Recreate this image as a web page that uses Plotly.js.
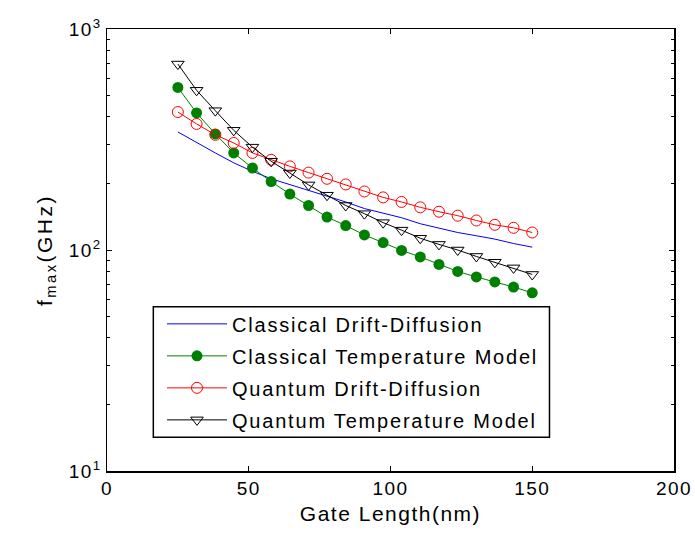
<!DOCTYPE html>
<html>
<head>
<meta charset="utf-8">
<script src="https://cdn.plot.ly/plotly-3.0.1.min.js"></script>
<style>
  html, body { margin: 0; padding: 0; background: #fff; }
  #chart { width: 695px; height: 534px; }
  .legendtext { letter-spacing: 1.8px; }
  .xtick text, .ytick text { letter-spacing: 1.5px; }
  .g-xtitle text { letter-spacing: 1.5px; }
  .g-ytitle text { letter-spacing: 2.5px; }
</style>
</head>
<body>
<div id="chart"></div>
<script>
// Gate length (nm)
const gateLength = [25, 31.6, 38.2, 44.7, 51.3, 57.9, 64.5, 71.1, 77.6, 84.2, 90.8, 97.4, 103.9, 110.5, 117.1, 123.7, 130.3, 136.8, 143.4, 150];
// f_max (GHz) per model
const classicalDriftDiffusion = [342, 306, 275, 248, 227, 210, 198, 186, 175, 165, 154, 147, 140, 131.5, 125.5, 120, 116, 112, 107, 103];
const classicalTemperature = [544, 417, 335, 275, 235, 204, 179, 159, 141, 129, 117, 108, 99.6, 93, 86, 80, 75.5, 71.7, 68, 64];
const quantumDriftDiffusion = [421, 372, 332, 305, 275, 256, 239, 224, 210, 198, 184, 173, 165, 156, 149, 143, 136, 130, 126, 120];
const quantumTemperature = [694, 528, 427, 348, 292, 252, 223, 197, 177, 159, 146, 133, 123, 113, 106, 100, 93.5, 88, 83, 77.5];

const seriesNames = ['Classical Drift-Diffusion', 'Classical Temperature Model', 'Quantum Drift-Diffusion', 'Quantum Temperature Model'];

const xTickVals = [0, 50, 100, 150, 200];
const yTickVals = [10, 100, 1000];
const yTickText = ['10<sup>1</sup>', '10<sup>2</sup>', '10<sup>3</sup>'];
const yMinorVals = [20, 30, 40, 50, 60, 70, 80, 90, 200, 300, 400, 500, 600, 700, 800, 900];

const FONT = '"Liberation Sans", Arial, Helvetica, sans-serif';

const traces = [
  { x: gateLength, y: classicalDriftDiffusion, name: seriesNames[0], legendgroup: 'a',
    mode: 'lines', line: { color: '#0000ff', width: 1 } },
  { x: gateLength, y: classicalTemperature, name: seriesNames[1], legendgroup: 'b',
    mode: 'lines+markers', line: { color: '#008000', width: 1 },
    marker: { symbol: 'circle', size: 11, color: '#008000' } },
  { x: gateLength, y: quantumDriftDiffusion, name: seriesNames[2], legendgroup: 'c',
    mode: 'lines+markers', line: { color: '#ff0000', width: 1 },
    marker: { symbol: 'circle-open', size: 11, color: '#ff0000', line: { width: 1, color: '#ff0000' } } },
  { x: gateLength, y: quantumTemperature, name: seriesNames[3], legendgroup: 'd',
    mode: 'lines+markers', line: { color: '#000000', width: 1 },
    marker: { symbol: 'triangle-down-open', size: 11, color: '#000000', line: { width: 1, color: '#000000' } } }
];

const layout = {
  width: 695, height: 534,
  margin: { l: 107, r: 21, t: 29, b: 63 },
  paper_bgcolor: '#fff', plot_bgcolor: '#fff',
  font: { family: FONT, color: '#000', size: 19 },
  showlegend: true,
  xaxis: {
    range: [0, 200], tickmode: 'array', tickvals: xTickVals,
    ticks: 'inside', ticklen: 5, tickwidth: 1, tickcolor: '#000',
    showline: true, linewidth: 1.5, linecolor: '#000', mirror: 'ticks',
    showgrid: false, zeroline: false, ticklabeloverflow: 'allow',
    tickfont: { family: FONT, size: 19 },
    title: { text: 'Gate Length(nm)', font: { family: FONT, size: 21 }, standoff: 8 }
  },
  yaxis: {
    type: 'log', range: [1, 3], tickmode: 'array', tickvals: yTickVals, ticktext: yTickText,
    ticks: 'inside', ticklen: 5, tickwidth: 1, tickcolor: '#000',
    showline: true, linewidth: 1.5, linecolor: '#000', mirror: 'ticks',
    showgrid: false, zeroline: false, ticklabeloverflow: 'allow',
    minor: { tickmode: 'array', tickvals: yMinorVals, ticks: 'inside', ticklen: 3, tickwidth: 1, tickcolor: '#000', showgrid: false },
    tickfont: { family: FONT, size: 19 },
    title: { text: 'f<sub>max</sub>(GHz)', font: { family: FONT, size: 21 }, standoff: 10 }
  },
  legend: {
    x: 0.097, y: 0.377, xanchor: 'left', yanchor: 'top',
    bgcolor: 'rgba(0,0,0,0)', borderwidth: 0,
    font: { family: FONT, size: 20 },
    itemwidth: 60, traceorder: 'grouped', tracegroupgap: 3,
    itemclick: false, itemdoubleclick: false
  },
  shapes: [{
    type: 'rect', xref: 'paper', yref: 'paper',
    x0: 0.0817, x1: 0.7804, y0: 0.0762, y1: 0.3717,
    line: { color: '#000', width: 1.5 }, fillcolor: 'rgba(0,0,0,0)'
  }]
};

Plotly.newPlot('chart', traces, layout, { staticPlot: true, displayModeBar: false });
</script>
</body>
</html>
